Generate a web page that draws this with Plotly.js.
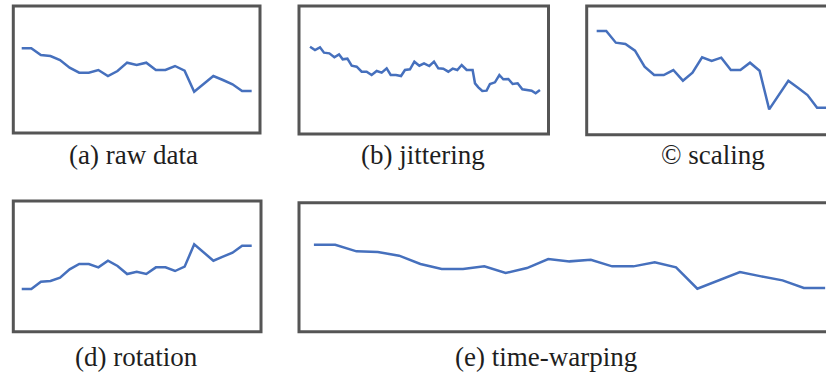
<!DOCTYPE html>
<html>
<head>
<meta charset="utf-8">
<script src="https://cdn.plot.ly/plotly-3.0.1.min.js"></script>
<style>html,body{margin:0;padding:0;background:#fff;}#chart{width:826px;height:373px;}</style>
</head>
<body>
<div id="chart"></div>
<script>
// ---- data ----
const captions = ["(a) raw data", "(b) jittering", "\u00A9 scaling", "(d) rotation", "(e) time-warping"];

const steps = [0,1,2,3,4,5,6,7,8,9,10,11,12,13,14,15,16,17,18,19,20,21,22,23,24];

const rawData = [6.5,6.5,4.5,4.2,3.0,0.7,-0.8,-0.8,0.0,-1.8,-0.3,2.2,1.5,2.2,0.0,0.0,1.2,-0.2,-6.5,-4.2,-1.8,-3.0,-4.3,-6.3,-6.3];

const jitterTime = [0,0.52,1.04,1.46,2.02,2.54,3.03,3.41,3.90,4.35,4.87,5.39,5.91,6.43,6.96,7.48,8.0,8.42,8.97,9.50,9.91,10.43,10.89,11.41,11.90,12.45,12.94,13.39,13.91,14.43,14.89,15.37,15.83,16.35,16.97,17.22,17.57,17.98,18.43,18.78,19.30,19.76,20.17,20.70,21.15,21.67,22.16,22.68,23.13,23.55,24.0];
const jitterData = [7.0,6.0,6.8,5.2,5.0,3.8,4.7,3.2,3.4,1.3,1.0,-0.5,-0.5,-1.5,-0.3,-0.8,0.5,-1.5,-1.5,-1.8,0.0,0.2,2.5,1.3,2.0,1.2,2.5,0.5,0.4,-0.5,0.4,0.0,1.5,0.0,0.0,-4.0,-5.2,-6.3,-6.2,-4.2,-3.7,-1.5,-2.8,-2.7,-4.2,-4.0,-5.8,-6.0,-6.2,-7.0,-6.0];

const scalingData = [11.8,11.8,8.3,7.9,5.9,1.1,-1.4,-1.4,0.1,-3.1,-0.7,3.9,2.8,3.8,0.1,0.1,2.3,-0.1,-11.7,-7.4,-3.1,-5.2,-7.4,-11.2,-11.2];

const rotationData = [-6.8,-6.8,-4.6,-4.4,-3.4,-0.9,0.7,0.7,-0.3,1.7,0.1,-2.3,-1.6,-2.3,-0.3,-0.3,-1.4,-0.1,6.6,4.1,1.7,2.9,4.1,6.2,6.2];

const warpData = [6.75,6.75,4.75,4.55,3.45,0.95,-0.55,-0.55,0.25,-1.75,-0.25,2.45,1.75,2.25,0.25,0.25,1.45,-0.05,-6.45,-3.95,-1.45,-2.75,-3.95,-6.25,-6.25];

// ---- layout helpers (pixel geometry of the 826x373 canvas) ----
const W = 826, H = 373;
const toPaperX = v => v / W;
const toPaperY = v => 1 - v / H;

const lineStyle = {color: '#4670bd', width: 2.5, shape: 'linear'};

const traces = [
  {x: steps, y: rawData, xaxis: 'x', yaxis: 'y'},
  {x: jitterTime, y: jitterData, xaxis: 'x2', yaxis: 'y2'},
  {x: steps, y: scalingData, xaxis: 'x3', yaxis: 'y3'},
  {x: steps, y: rotationData, xaxis: 'x4', yaxis: 'y4'},
  {x: steps, y: warpData, xaxis: 'x5', yaxis: 'y5'}
].map(t => Object.assign(t, {type: 'scatter', mode: 'lines', line: lineStyle, hoverinfo: 'skip', showlegend: false}));

// panel boxes in pixels: [left, right, top, bottom]
const boxes = [
  [13.3, 260, 6, 133],
  [299, 548.5, 6, 134],
  [586.7, 826, 6, 134.7],
  [13.3, 261, 201, 331.7],
  [299, 826, 202.7, 331.7]
];
const xRanges = [[-0.877, 24.87], [-1.15, 24.89], [-1.04, 23.93], [-0.88, 24.97], [-0.70, 24.04]];
const yRanges = [[-18.9, 19.2], [-19.2, 19.2], [-19.3, 19.3], [-19.6, 19.6], [-19.35, 19.35]];
const openRight = [false, false, true, false, true];

const layout = {
  width: W, height: H,
  margin: {l: 0, r: 0, t: 0, b: 0},
  font: {family: 'Liberation Serif', size: 27, color: '#1e1e1e'},
  paper_bgcolor: '#ffffff',
  plot_bgcolor: '#ffffff',
  showlegend: false,
  shapes: [],
  annotations: []
};

boxes.forEach((b, i) => {
  const n = i === 0 ? '' : String(i + 1);
  const ax = {visible: false, fixedrange: true};
  layout['xaxis' + n] = Object.assign({}, ax, {domain: [toPaperX(b[0]), Math.min(1, toPaperX(b[1]))], range: xRanges[i], anchor: 'y' + n});
  layout['yaxis' + n] = Object.assign({}, ax, {domain: [toPaperY(b[3]), toPaperY(b[2])], range: yRanges[i], anchor: 'x' + n});
  layout.shapes.push({
    type: 'rect', xref: 'paper', yref: 'paper', layer: 'above',
    x0: toPaperX(b[0]), x1: openRight[i] ? 1.03 : toPaperX(b[1]),
    y0: toPaperY(b[3]), y1: toPaperY(b[2]),
    line: {color: '#555555', width: 3}, fillcolor: 'rgba(0,0,0,0)'
  });
});

const capPos = [[133, 155], [423, 155], [713, 155], [136, 357], [546, 357]];
captions.forEach((c, i) => {
  layout.annotations.push({
    text: c, xref: 'paper', yref: 'paper',
    x: toPaperX(capPos[i][0]), y: toPaperY(capPos[i][1]),
    xanchor: 'center', yanchor: 'middle', showarrow: false,
    font: {family: 'Liberation Serif', size: 27, color: '#1e1e1e'}
  });
});

Plotly.newPlot('chart', traces, layout, {staticPlot: true, displayModeBar: false});
</script>
</body>
</html>
